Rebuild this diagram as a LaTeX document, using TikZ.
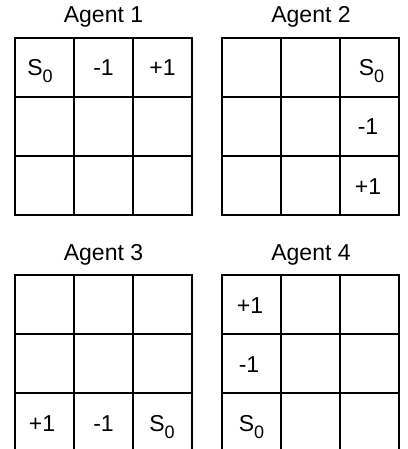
\documentclass[tikz,border=0pt]{standalone}
\usepackage{fontspec}
\setmainfont{Liberation Sans}
\newcommand\szero{S\raisebox{-7pt}{\fontsize{18}{18}\selectfont 0}}
\begin{document}
\begin{tikzpicture}[x=1pt,y=-1pt,
  gridline/.style={line width=1.8pt, line cap=rect},
  lbl/.style={font=\fontsize{23}{27}\selectfont, inner sep=0pt, anchor=base},
  ttl/.style={font=\fontsize{23}{27}\selectfont, inner sep=0pt, anchor=base}]
\useasboundingbox (0,0) rectangle (407,449);
\fill[white] (0,0) rectangle (407,449);
\clip (0,0) rectangle (407,449);
% grids
\foreach \ox/\oy in {15/38, 222/38, 15/275, 222/275}{
  \foreach \i in {0,...,3}{
    \draw[gridline] (\ox+\i*59,\oy) -- (\ox+\i*59,\oy+177);
    \draw[gridline] (\ox,\oy+\i*59) -- (\ox+177,\oy+\i*59);
  }
}
% titles
\node[ttl] (t1) at (103.5,23) {Agent 1};
\node[ttl] (t2) at (311,23) {Agent 2};
\node[ttl] (t3) at (103.5,260) {Agent 3};
\node[ttl] (t4) at (311,260) {Agent 4};
% Agent 1
\node[lbl] (a1s) at (40,76) {\szero};
\node[lbl] (a1m) at (103.5,76) {-1};
\node[lbl] (a1p) at (162.5,76) {+1};
% Agent 2
\node[lbl] (a2s) at (371.5,76) {\szero};
\node[lbl] (a2m) at (368,135) {-1};
\node[lbl] (a2p) at (368,194) {+1};
% Agent 3
\node[lbl] (a3p) at (42,431) {+1};
\node[lbl] (a3m) at (103.5,431) {-1};
\node[lbl] (a3s) at (162,431) {\szero};
% Agent 4
\node[lbl] (a4p) at (250,313) {+1};
\node[lbl] (a4m) at (249,372) {-1};
\node[lbl] (a4s) at (251.5,431) {\szero};
\end{tikzpicture}
\end{document}
